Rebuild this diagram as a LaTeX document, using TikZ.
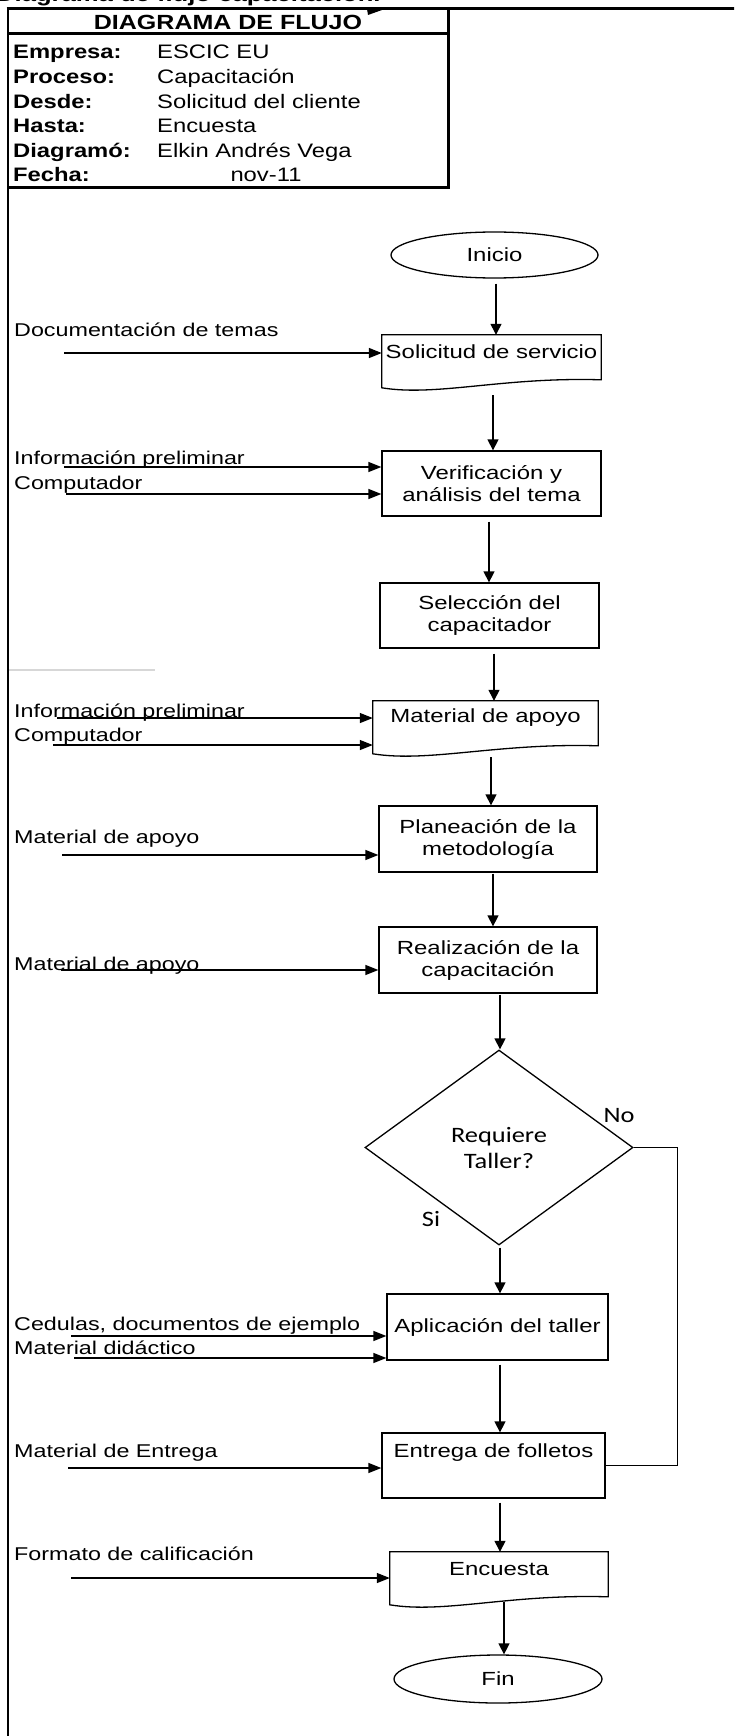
\documentclass[tikz,border=0pt]{standalone}
\usepackage{fontspec}
\setmainfont{Liberation Sans}
\newfontfamily\flowfont{Liberation Sans}[FakeStretch=1.26]
\newfontfamily\headfont{Liberation Sans}[FakeStretch=1.22]
\newfontfamily\califont{Carlito}[FakeStretch=1.2]
\usetikzlibrary{arrows.meta,calc,shapes.geometric}
\definecolor{rulegray}{RGB}{215,215,215}

% outline of a "document" box: straight top and sides, wavy bottom edge
\newcommand\docoutline[1]{%
  \draw[boxline] (#1.north west) -- (#1.north east) -- ($(#1.north east)+(0,45)$)
    .. controls ($(#1.north west)!0.55!(#1.north east)+(0,42)$)
       and ($(#1.north west)!0.25!(#1.north east)+(0,62)$) ..
    ($(#1.north west)+(0,53)$) -- cycle;}

\begin{document}
\begin{tikzpicture}[x=1pt,y=-1pt,
  boxline/.style={draw=black,line width=1.3pt},
  flowtext/.style={font=\flowfont\fontsize{19}{22}\selectfont},
  procbox/.style={boxline,rectangle,inner sep=0pt,align=center,flowtext},
  docbox/.style={rectangle,inner sep=0pt,align=center,flowtext,minimum height=34pt},
  termin/.style={boxline,ellipse,inner sep=0pt,flowtext},
  decision/.style={boxline,diamond,inner sep=0pt,align=center,
                   font=\califont\fontsize{22}{26}\selectfont},
  branch/.style={inner sep=0pt,font=\califont\fontsize{22}{26}\selectfont},
  inlabel/.style={anchor=base west,inner sep=0pt,font=\flowfont\fontsize{18.5}{22}\selectfont},
  hdrkey/.style={anchor=base west,inner sep=0pt,font=\headfont\bfseries\fontsize{19.5}{23}\selectfont},
  hdrval/.style={anchor=base west,inner sep=0pt,font=\headfont\fontsize{19.5}{23}\selectfont},
  varr/.style={line width=1.3pt,-{Triangle[length=11pt,width=11pt]}},
  harr/.style={line width=1.3pt,-{Triangle[length=13pt,width=10pt]}},
  link/.style={line width=1.3pt},
  frame/.style={line width=2.8pt},
  grid/.style={line width=3pt}]

\useasboundingbox (0,0) rectangle (734,1736);
\clip (0,0) rectangle (734,1736);

% ---------- page title and frame ----------
\node[anchor=base west,inner sep=0pt,font=\headfont\bfseries\fontsize{21}{25}\selectfont]
  (title) at (-4,2) {Diagrama de flujo capacitación.};
\draw[frame] (8,9) -- (8,1745);
\draw[grid] (6.6,9) -- (745,9);
\fill (367,9) -- (382,10) -- (368,15) -- cycle;

% ---------- header table ----------
\draw[grid] (448,9) -- (448,188);
\draw[grid] (8,34) -- (450,34);
\draw[grid] (8,188) -- (450,188);
\node[anchor=base,inner sep=0pt,font=\headfont\bfseries\fontsize{20.5}{24}\selectfont]
  (hdr) at (228,30) {DIAGRAMA DE FLUJO};
\node[hdrkey] (k1) at (13,59)    {Empresa:};
\node[hdrkey] (k2) at (13,83.6)  {Proceso:};
\node[hdrkey] (k3) at (13,108.2) {Desde:};
\node[hdrkey] (k4) at (13,132.8) {Hasta:};
\node[hdrkey] (k5) at (13,157.4) {Diagramó:};
\node[hdrkey] (k6) at (13,182)   {Fecha:};
\node[hdrval] (v1) at (157,59)    {ESCIC EU};
\node[hdrval] (v2) at (157,83.6)  {Capacitación};
\node[hdrval] (v3) at (157,108.2) {Solicitud del cliente};
\node[hdrval] (v4) at (157,132.8) {Encuesta};
\node[hdrval] (v5) at (157,157.4) {Elkin Andrés Vega};
\node[hdrval,anchor=base] (v6) at (266,182) {nov-11};

\draw[rulegray,line width=1.5pt] (9,670) -- (155,670);

% ---------- main flow ----------
\node[termin,minimum width=207pt,minimum height=46pt] (ini) at (494.5,255) {Inicio};
\node[docbox,minimum width=219pt] (sol) at (491.5,352) {Solicitud de servicio};
\docoutline{sol}
\node[procbox,minimum width=219pt,minimum height=65pt] (ver) at (491.5,483.5)
  {Verificación y\\análisis del tema};
\node[procbox,minimum width=219pt,minimum height=65pt] (sel) at (489.5,615.5)
  {Selección del\\capacitador};
\node[docbox,minimum width=225pt] (mat) at (485.5,718) {Material de apoyo};
\docoutline{mat}
\node[procbox,minimum width=218pt,minimum height=66pt] (pla) at (488,839)
  {Planeación de la\\metodología};
\node[procbox,minimum width=218pt,minimum height=66pt] (rea) at (488,960)
  {Realización de la\\capacitación};
\node[decision,minimum width=268pt,minimum height=195pt] (dia) at (499,1147.5)
  {Requiere\\Taller?};
\node[branch] (no) at (619,1116) {No};
\node[branch] (si) at (431,1219) {Si};
\node[procbox,minimum width=221pt,minimum height=66pt] (apl) at (497.5,1327)
  {Aplicación del taller};
\node[procbox,minimum width=223pt,minimum height=65pt,text height=14pt,text depth=31pt]
  (ent) at (493.5,1465.5) {Entrega de folletos};
\node[docbox,minimum width=218pt] (enc) at (499,1569) {Encuesta};
\docoutline{enc}
\node[termin,minimum width=208pt,minimum height=48pt] (fin) at (498,1679) {Fin};

% vertical connectors
\draw[varr] ($(ini.south)+(1.5,5)$) coordinate (a1) -- (a1 |- sol.north);
\draw[varr] ($(sol.south)+(1.5,26)$) coordinate (a2) -- (a2 |- ver.north);
\draw[varr] ($(ver.south)+(-2.5,5)$) coordinate (a3) -- (a3 |- sel.north);
\draw[varr] ($(sel.south)+(4.5,5)$) coordinate (a4) -- (a4 |- mat.north);
\draw[varr] ($(mat.south)+(5.5,22)$) coordinate (a5) -- (a5 |- pla.north);
\draw[varr] ($(pla.south)+(5,1)$) coordinate (a6) -- (a6 |- rea.north);
\draw[varr] ($(rea.south)+(12,1)$) coordinate (a7) -- (a7 |- dia.north);
\draw[varr] ($(dia.south)+(1,2)$) coordinate (a8) -- (a8 |- apl.north);
\draw[varr] ($(apl.south)+(2.5,4)$) coordinate (a9) -- (a9 |- ent.north);
\draw[varr] ($(ent.south)+(6.5,4)$) coordinate (a10) -- (a10 |- enc.north);
\draw[varr] ($(enc.south)+(5,16)$) coordinate (a11) -- (a11 |- fin.north);

% "No" branch back into the delivery step
\draw[link] (dia.east) -- ++(44,0) |- (ent.east);

% ---------- inputs on the left ----------
\node[inlabel] (i1) at (14,336) {Documentación de temas};
\coordinate (e1) at (64,353);
\draw[harr] (e1) -- (e1 -| sol.west);

\node[inlabel] (i2) at (14,464) {Información preliminar};
\node[inlabel] (i3) at (14,489) {Computador};
\coordinate (e2) at (64,467);
\coordinate (e3) at (66,494);
\draw[harr] (e2) -- (e2 -| ver.west);
\draw[harr] (e3) -- (e3 -| ver.west);

\node[inlabel] (i4) at (14,717) {Información preliminar};
\node[inlabel] (i5) at (14,741) {Computador};
\coordinate (e4) at (57,718);
\coordinate (e5) at (53,745);
\draw[harr] (e4) -- (e4 -| mat.west);
\draw[harr] (e5) -- (e5 -| mat.west);

\node[inlabel] (i6) at (14,843) {Material de apoyo};
\coordinate (e6) at (62,855);
\draw[harr] (e6) -- (e6 -| pla.west);

\node[inlabel] (i7) at (14,970) {Material de apoyo};
\coordinate (e7) at (61,970);
\draw[harr] (e7) -- (e7 -| rea.west);

\node[inlabel] (i8) at (14,1330) {Cedulas, documentos de ejemplo};
\node[inlabel] (i9) at (14,1354) {Material didáctico};
\coordinate (e8) at (71,1336);
\coordinate (e9) at (74,1358);
\draw[harr] (e8) -- (e8 -| apl.west);
\draw[harr] (e9) -- (e9 -| apl.west);

\node[inlabel] (i10) at (14,1457) {Material de Entrega};
\coordinate (e10) at (68,1468);
\draw[harr] (e10) -- (e10 -| ent.west);

\node[inlabel] (i11) at (14,1560) {Formato de calificación};
\coordinate (e11) at (71,1578);
\draw[harr] (e11) -- (e11 -| enc.west);

\end{tikzpicture}
\end{document}
